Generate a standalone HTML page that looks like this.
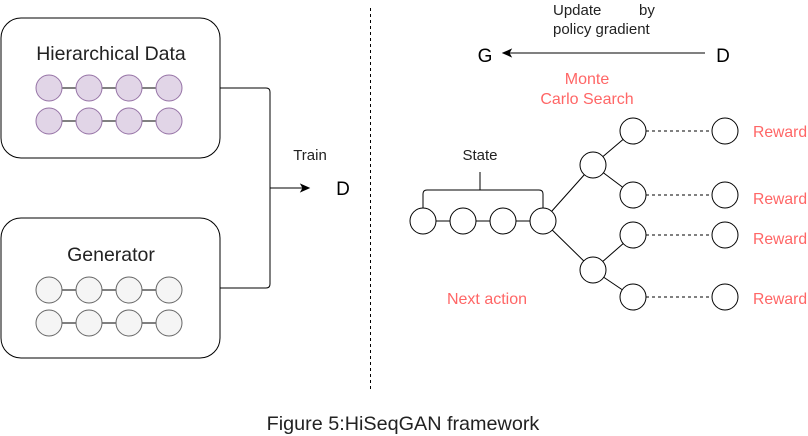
<!DOCTYPE html>
<html><head><style>body{margin:0;background:#fff}svg{display:block}</style></head><body>
<svg width="808" height="436" viewBox="0 0 808 436" xmlns="http://www.w3.org/2000/svg" font-family="Liberation Sans, sans-serif">
<rect x="1" y="18" width="219" height="140" rx="20" fill="#fff" stroke="#000"/>
<rect x="1" y="218" width="219" height="140" rx="20" fill="#fff" stroke="#000"/>
<text x="111" y="60" font-size="19.5" text-anchor="middle" fill="#222">Hierarchical Data</text>
<text x="111" y="261" font-size="19.5" text-anchor="middle" fill="#222">Generator</text>
<g stroke="#000"><line x1="49" y1="88" x2="169" y2="88"/><line x1="49" y1="121" x2="169" y2="121"/><line x1="49" y1="290" x2="169" y2="290"/><line x1="49" y1="323" x2="169" y2="323"/></g>
<g fill="#e1d5e7" stroke="#9673a6">
<circle cx="49" cy="88" r="13"/><circle cx="89" cy="88" r="13"/><circle cx="129" cy="88" r="13"/><circle cx="169" cy="88" r="13"/>
<circle cx="49" cy="121" r="13"/><circle cx="89" cy="121" r="13"/><circle cx="129" cy="121" r="13"/><circle cx="169" cy="121" r="13"/></g>
<g fill="#f5f5f5" stroke="#666">
<circle cx="49" cy="290" r="13"/><circle cx="89" cy="290" r="13"/><circle cx="129" cy="290" r="13"/><circle cx="169" cy="290" r="13"/>
<circle cx="49" cy="323" r="13"/><circle cx="89" cy="323" r="13"/><circle cx="129" cy="323" r="13"/><circle cx="169" cy="323" r="13"/></g>
<path d="M220 88 H266 Q270 88 270 92 V284 Q270 288 266 288 H220" fill="none" stroke="#000"/>
<line x1="270" y1="188" x2="303" y2="188" stroke="#000"/>
<path d="M309 188 L301 184.5 L303 188 L301 191.5Z" fill="#000" stroke="#000"/>
<text x="310" y="160" font-size="15" text-anchor="middle" fill="#222">Train</text>
<text x="343" y="195" font-size="19" text-anchor="middle" fill="#000">D</text>
<line x1="370.5" y1="8" x2="370.5" y2="390" stroke="#000" stroke-dasharray="3,3"/>
<text x="485" y="62" font-size="19" text-anchor="middle">G</text>
<text x="723" y="62" font-size="19" text-anchor="middle">D</text>
<line x1="705" y1="53" x2="508" y2="53" stroke="#000"/>
<path d="M503 53 L511 49.5 L509 53 L511 56.5Z" fill="#000" stroke="#000"/>
<text x="553" y="15" font-size="15" fill="#222">Update</text><text x="639" y="15" font-size="15" fill="#222">by</text>
<text x="553" y="34" font-size="15" fill="#222">policy gradient</text>
<g fill="#ff6666" font-size="16" text-anchor="middle"><text x="587" y="84">Monte</text><text x="587" y="104">Carlo Search</text>
<text x="487" y="304">Next action</text></g>
<g fill="#ff6666" font-size="15.7"><text x="753" y="137">Reward</text><text x="753" y="204">Reward</text><text x="753" y="244">Reward</text><text x="753" y="304">Reward</text></g>
<text x="480" y="160" font-size="15" text-anchor="middle" fill="#222">State</text>
<path d="M423 208 V194 Q423 190 427 190 H539 Q543 190 543 194 V208 M480 190 V172" fill="none" stroke="#000"/>
<g stroke="#000"><line x1="423" y1="221" x2="543" y2="221"/>
<line x1="543" y1="221" x2="593" y2="165"/><line x1="543" y1="221" x2="593" y2="270"/>
<line x1="593" y1="165" x2="633" y2="131"/><line x1="593" y1="165" x2="633" y2="195"/>
<line x1="593" y1="270" x2="633" y2="235"/><line x1="593" y1="270" x2="633" y2="297"/></g>
<g stroke="#000" stroke-dasharray="3,3"><line x1="646" y1="131" x2="712" y2="131"/><line x1="646" y1="195" x2="712" y2="195"/><line x1="646" y1="235" x2="712" y2="235"/><line x1="646" y1="297" x2="712" y2="297"/></g>
<g fill="#fff" stroke="#000">
<circle cx="423" cy="221" r="13"/><circle cx="463" cy="221" r="13"/><circle cx="503" cy="221" r="13"/><circle cx="543" cy="221" r="13"/>
<circle cx="593" cy="165" r="13"/><circle cx="593" cy="270" r="13"/>
<circle cx="633" cy="131" r="13"/><circle cx="633" cy="195" r="13"/><circle cx="633" cy="235" r="13"/><circle cx="633" cy="297" r="13"/>
<circle cx="725" cy="131" r="13"/><circle cx="725" cy="195" r="13"/><circle cx="725" cy="235" r="13"/><circle cx="725" cy="297" r="13"/></g>
<text x="403" y="430" font-size="19.8" text-anchor="middle" fill="#222">Figure 5:HiSeqGAN framework</text>
</svg></body></html>
